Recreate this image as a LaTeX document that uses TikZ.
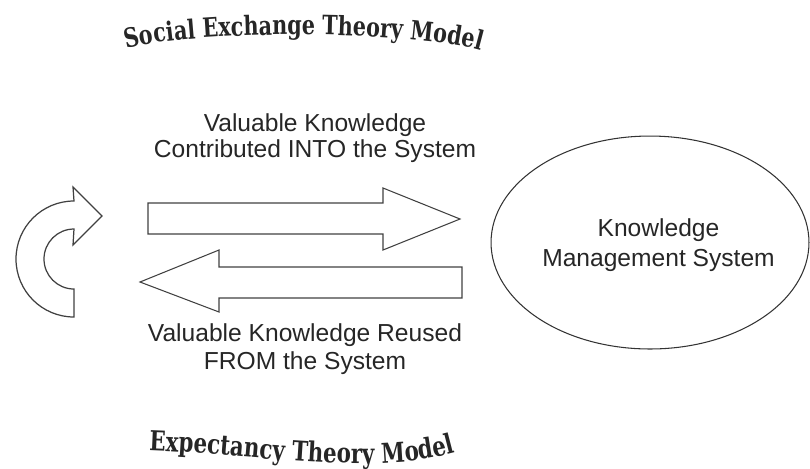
\documentclass[tikz,border=0pt]{standalone}
\usepackage{fontspec}
\setmainfont{Liberation Sans}
\newfontfamily\titlefont[FakeStretch=0.78]{DejaVu Serif}
\usetikzlibrary{shapes.geometric,decorations.text}

\begin{document}
\begin{tikzpicture}[x=0.02cm, y=-0.02cm,
    blockarrow/.style={draw=black!75, line width=0.6pt, line join=miter},
    flowtext/.style={align=center, text=black!85, font=\fontsize{14}{#1}\selectfont},
    flowtext/.default=14.7pt]
    \useasboundingbox (0,0) rectangle (810,468);

    % Titles, bent along their baselines
    \path[decorate, decoration={text along path, text align=center,
        text={|\titlefont\bfseries\fontsize{15.1}{15.1}\selectfont\color{black!85}|Social Exchange Theory Model}}]
        (112,54) .. controls (160,28) and (440,28) .. (495,56);
    \path[decorate, decoration={text along path, text align=center,
        text={|\titlefont\bfseries\fontsize{15.6}{15.6}\selectfont\color{black!85}|Expectancy Theory Model}}]
        (134,450) .. controls (250,452) and (380,480) .. (470,448);

    % Knowledge management system
    \node[draw=black!80, line width=0.6pt, ellipse, minimum width=6.36cm,
        minimum height=4.26cm, inner sep=0pt] (kms) at (650,242.5) {};
    \node[flowtext=17pt] (kmslabel) at (658.5,245.5) {Knowledge\\Management System};

    % Contribution into the system
    \draw[blockarrow] (148,203) -- (383,203) -- (383,188) -- (460,219)
        -- (383,250) -- (383,234) -- (148,234) -- cycle;
    \node[flowtext] (contrib) at (315,138.5) {Valuable Knowledge\\Contributed INTO the System};

    % Reuse from the system
    \draw[blockarrow] (462,267) -- (219,267) -- (219,250) -- (140,282)
        -- (219,312) -- (219,298) -- (462,298) -- cycle;
    \node[flowtext=15.9pt] (reuse) at (305,349.5) {Valuable Knowledge Reused\\FROM the System};

    % Feedback loop
    \draw[blockarrow, line width=0.7pt] (74,201) arc[start angle=270, end angle=90, radius=58]
        -- (74,289) arc[start angle=90, end angle=270, radius=30]
        -- (73,245) -- (102,216) -- (73,187) -- cycle;
\end{tikzpicture}
\end{document}
